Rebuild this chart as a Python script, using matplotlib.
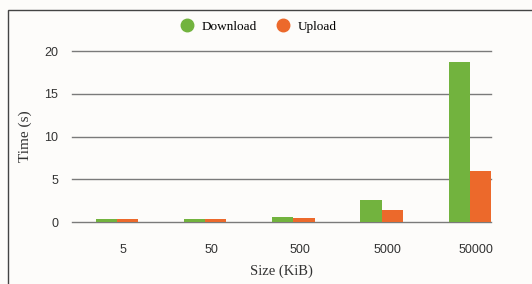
import numpy as np
import matplotlib.pyplot as plt
from matplotlib.patches import Rectangle
from matplotlib.lines import Line2D

sizes = ['5', '50', '500', '5000', '50000']
download = [0.3, 0.3, 0.6, 2.6, 18.75]
upload = [0.3, 0.3, 0.5, 1.35, 6.0]

green = '#72b33e'
orange = '#ec692b'


def plot_data():
    fig = plt.figure(figsize=(5.32, 2.84), dpi=100)
    fig.patch.set_facecolor('#fdfcfa')
    ax = fig.add_axes([0.1353, 0.2183, 0.7877, 0.6021])
    ax.set_facecolor('#fdfcfa')

    x = np.arange(len(sizes))
    w = 0.24
    ax.bar(x - w, download, width=w, align='edge', color=green, zorder=3)
    ax.bar(x, upload, width=w, align='edge', color=orange, zorder=3)

    ax.set_xlim(-0.51, 4.24)
    ax.set_ylim(0, 20)
    ax.set_yticks([0, 5, 10, 15, 20])
    ax.set_xticks(x + 0.07)
    ax.set_xticklabels(sizes)
    ax.tick_params(length=0, labelsize=9, colors='#333333')
    ax.tick_params(axis='x', pad=16)
    ax.tick_params(axis='y', pad=10)
    for lab in ax.get_xticklabels() + ax.get_yticklabels():
        lab.set_family('Liberation Sans')
    for v in [0, 5, 10, 15, 20]:
        ax.axhline(v, color='#7a7a7a', lw=1, zorder=1, clip_on=False)
    for s in ax.spines.values():
        s.set_visible(False)

    serif = 'Liberation Serif'
    ax.set_xlabel('Size (KiB)', family=serif, fontsize=10.5, color='#333333', labelpad=6)
    ax.set_ylabel('Time (s)', family=serif, fontsize=11, color='#333333', labelpad=9)

    handles = [Line2D([], [], marker='o', ls='', ms=9, color=green),
               Line2D([], [], marker='o', ls='', ms=9, color=orange)]
    fig.legend(handles, ['Download', 'Upload'], loc='center', bbox_to_anchor=(0.48, 0.905),
               ncol=2, frameon=False, prop={'family': serif, 'size': 9.5},
               handletextpad=0.1, columnspacing=1.0)

    fig.add_artist(Rectangle((8 / 532, -0.05), 1.0, 1 - 10 / 284 + 0.05,
                             transform=fig.transFigure, fill=False,
                             ec='#444444', lw=1))
    fig.savefig('out.png', dpi=100, facecolor=fig.get_facecolor())


plot_data()
